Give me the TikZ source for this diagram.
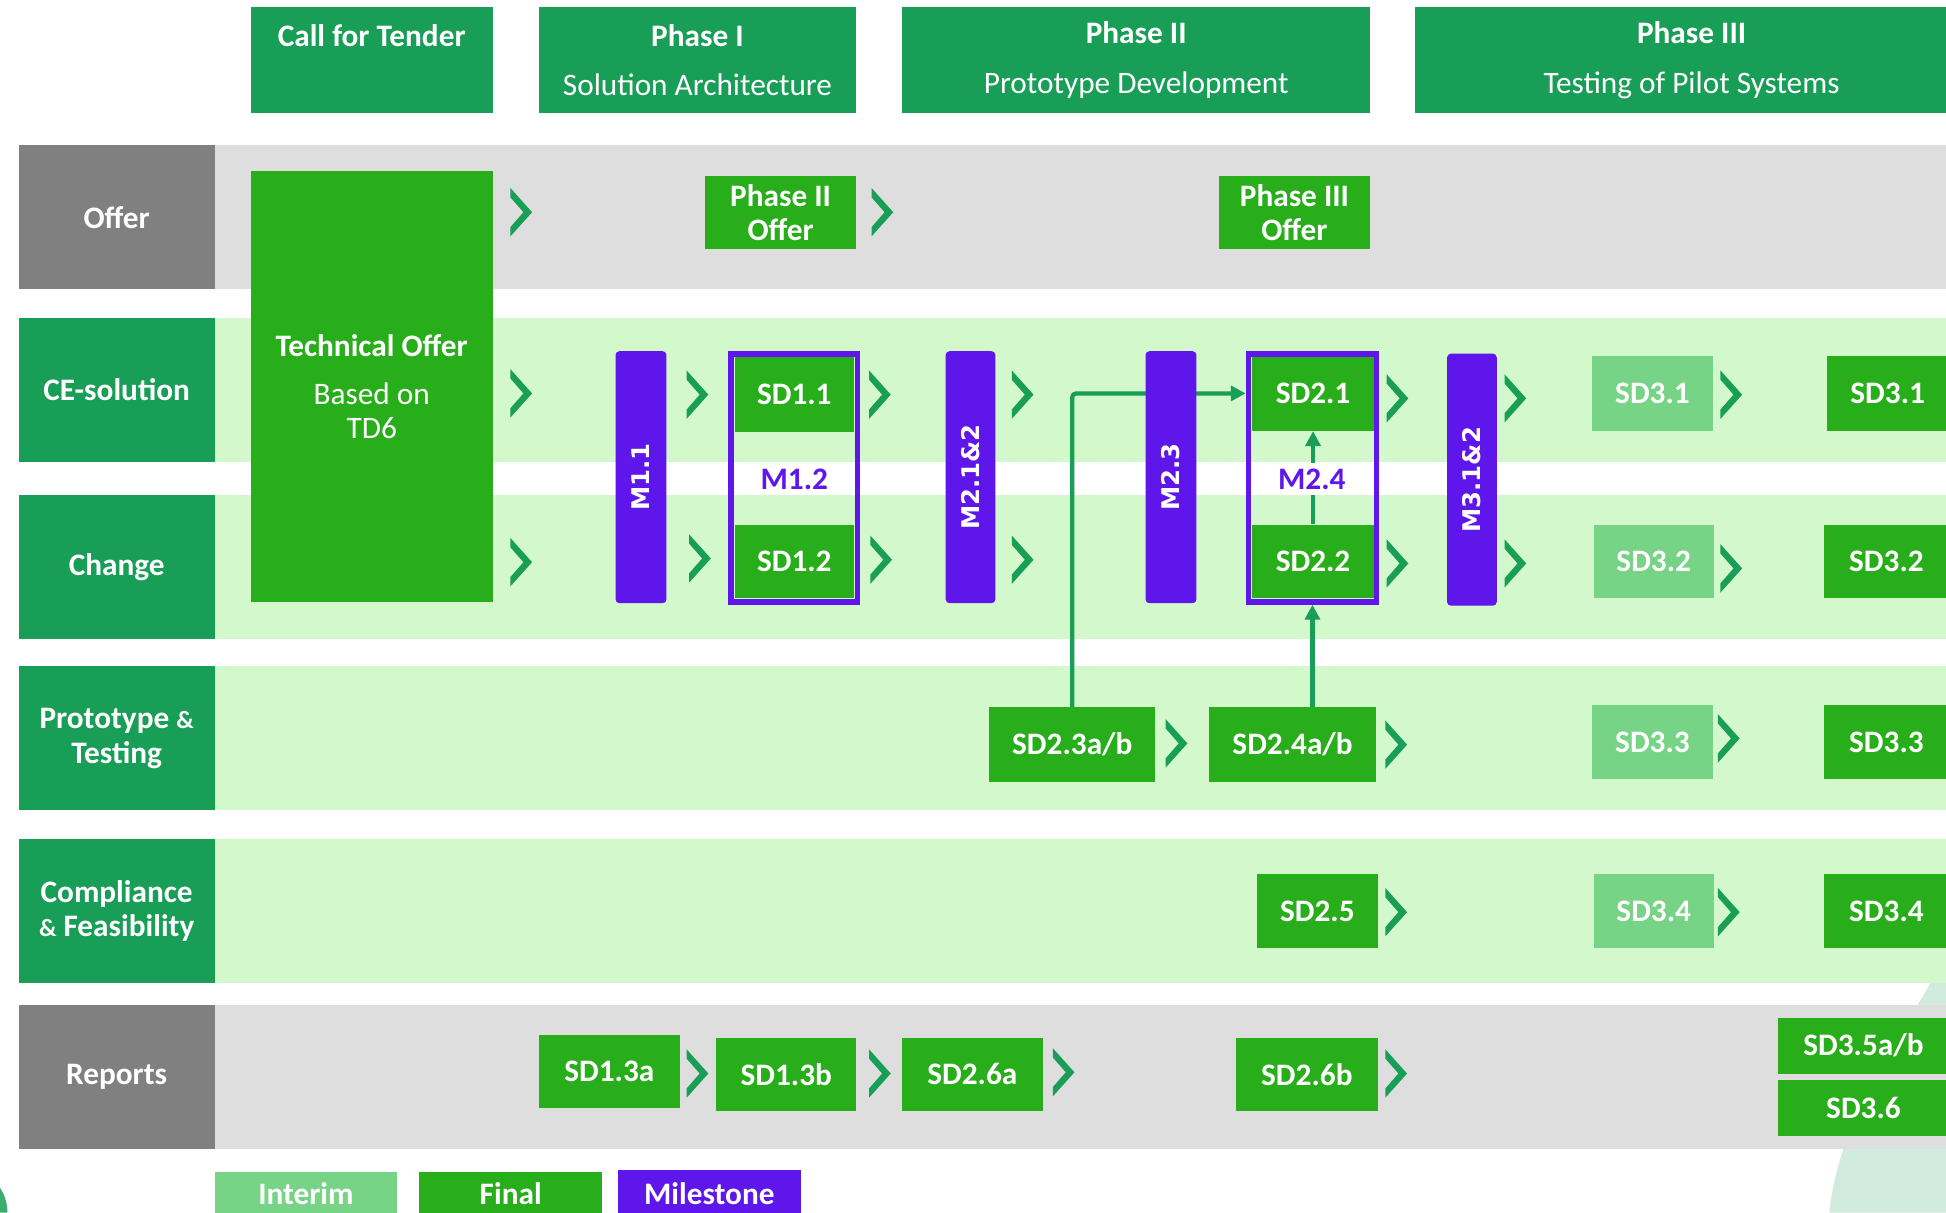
\documentclass[tikz,border=0pt]{standalone}
\usepackage{fontspec}
\setmainfont{Carlito}
\newfontfamily\dejavu{DejaVu Sans}
\usetikzlibrary{arrows.meta}
\definecolor{hdr}{RGB}{25,158,88}
\definecolor{fin}{RGB}{40,174,26}
\definecolor{inter}{RGB}{119,211,133}
\definecolor{mil}{RGB}{94,22,234}
\definecolor{lgreen}{RGB}{211,248,203}
\definecolor{lgray}{RGB}{222,222,222}
\definecolor{dgray}{RGB}{128,128,128}
\definecolor{pale}{RGB}{209,235,223}
% name, x1, y1, x2, y2, style, text
\newcommand\mybox[7]{\node[#6, inner sep=0pt, minimum width={(#4-#2)*0.5pt}, minimum height={(#5-#3)*0.5pt}] (#1) at ({(#2+#4)/2},{(#3+#5)/2}) {#7};}
\newcommand\chevat[2]{\pic at (#1,#2) {chevron};}
\begin{document}
\begin{tikzpicture}[x=0.5pt,y=-0.5pt,
  every node/.style={font=\fontsize{12.6}{13.5}\selectfont, text=white, align=center},
  hdrbox/.style={fill=hdr},
  labbox/.style={fill=hdr, font=\fontsize{12.6}{14}\selectfont\bfseries},
  graylab/.style={fill=dgray, font=\fontsize{12.6}{14}\selectfont\bfseries},
  finbox/.style={fill=fin, font=\fontsize{12.6}{13.5}\selectfont\bfseries},
  intbox/.style={fill=inter, font=\fontsize{12.6}{13.5}\selectfont\bfseries},
  milbar/.style={fill=mil, rounded corners=1.5pt},
  miltext/.style={rotate=90, inner sep=0pt, font=\dejavu\bfseries\fontsize{9.8}{11}\selectfont},
  grp/.style={draw=mil, line width=2.3pt},
  mlab/.style={text=mil, font=\fontsize{12.6}{13.5}\selectfont\bfseries},
  arr/.style={draw=hdr, line width=1.7pt, rounded corners=1.5pt, -{Triangle[length=6pt,width=6pt]}},
  chevron/.pic={\fill[hdr] (-8.75,-19.5) -- (8.75,0) -- (-8.75,19.5) -- (-8.75,12) -- (1.75,0) -- (-8.75,-12) -- cycle;}
]
\useasboundingbox (0,0) rectangle (1568,977);
\clip (0,0) rectangle (1568,977);
\fill[white] (0,0) rectangle (1568,977);
% background decorations
\fill[pale] (1568,770) .. controls (1530,840) and (1482,900) .. (1474,977) -- (1568,977) -- cycle;
\fill[hdr!85] (0,957) .. controls (4,963) and (6,970) .. (6,977) -- (0,977) -- cycle;

% header
\mybox{hct}{202}{6}{397}{91}{hdrbox}{\textbf{Call for Tender}\\[6.5pt]\phantom{X}}
\mybox{hp1}{434}{6}{690}{91}{hdrbox}{\textbf{Phase I}\\[6.5pt]Solution Architecture}
\mybox{hp2}{727}{6}{1104}{91}{hdrbox}{\textbf{Phase II}\\[6.5pt]Prototype Development}
\mybox{hp3}{1140}{6}{1586}{91}{hdrbox}{\textbf{Phase III}\\[6.5pt]Testing of Pilot Systems}

% row bands
\fill[lgray]  (173,117) rectangle (1568,233);
\fill[lgreen] (173,256) rectangle (1568,372);
\fill[lgreen] (173,399) rectangle (1568,515);
\fill[lgreen] (173,537) rectangle (1568,653);
\fill[lgreen] (173,676) rectangle (1568,792);
\fill[lgray]  (173,810) rectangle (1568,926);

% row labels
\mybox{roffer}{15}{117}{173}{233}{graylab}{Offer}
\mybox{rce}{15}{256}{173}{372}{labbox}{CE-solution}
\mybox{rchange}{15}{399}{173}{515}{labbox}{Change}
\mybox{rproto}{15}{537}{173}{653}{labbox}{Prototype {\fontsize{10}{12}\selectfont\&}\\Testing}
\mybox{rcomp}{15}{676}{173}{792}{labbox}{Compliance\\{\fontsize{10}{12}\selectfont\&} Feasibility}
\mybox{rrep}{15}{810}{173}{926}{graylab}{Reports}

% technical offer
\mybox{tech}{202}{138}{397}{485}{hdrbox,fill=fin}{\textbf{Technical Offer}\\[6pt]Based on\\TD6}

% offer row
\mybox{p2off}{568}{142}{690}{201}{finbox}{Phase II\\Offer}
\mybox{p3off}{982}{142}{1104}{201}{finbox}{Phase III\\Offer}

% SD boxes
\mybox{sd11}{592}{288}{688}{348}{finbox}{SD1.1}
\mybox{sd12}{592}{423}{688}{482}{finbox}{SD1.2}
\mybox{sd21}{1009}{287}{1107}{347}{finbox}{SD2.1}
\mybox{sd22}{1009}{423}{1107}{482}{finbox}{SD2.2}
\mybox{sd31i}{1283}{287}{1380}{347}{intbox}{SD3.1}
\mybox{sd31f}{1472}{287}{1570}{347}{finbox}{SD3.1}
\mybox{sd32i}{1284}{423}{1381}{482}{intbox}{SD3.2}
\mybox{sd32f}{1470}{423}{1570}{482}{finbox}{SD3.2}
\mybox{sd23}{797}{570}{931}{630}{finbox}{SD2.3a/b}
\mybox{sd24}{974}{570}{1109}{630}{finbox}{SD2.4a/b}
\mybox{sd33i}{1283}{568}{1380}{628}{intbox}{SD3.3}
\mybox{sd33f}{1470}{568}{1570}{628}{finbox}{SD3.3}
\mybox{sd25}{1013}{704}{1110}{764}{finbox}{SD2.5}
\mybox{sd34i}{1284}{704}{1381}{764}{intbox}{SD3.4}
\mybox{sd34f}{1470}{704}{1570}{764}{finbox}{SD3.4}
\mybox{sd13a}{434}{834}{548}{893}{finbox}{SD1.3a}
\mybox{sd13b}{577}{836}{690}{895}{finbox}{SD1.3b}
\mybox{sd26a}{727}{836}{840}{895}{finbox}{SD2.6a}
\mybox{sd26b}{996}{836}{1110}{895}{finbox}{SD2.6b}
\mybox{sd35}{1433}{820}{1570}{865}{finbox}{SD3.5a/b}
\mybox{sd36}{1433}{870}{1570}{915}{finbox}{SD3.6}

% group frames
\mybox{g12}{589}{285}{691}{485}{grp}{}
\mybox{g24}{1006}{285}{1109}{485}{grp}{}

% connectors
\draw[arr] (sd23.north) |- (sd21.west -| g24.west);
\draw[arr] (g24.south |- sd24.north) -- (g24.south);
\draw[arr] (sd22.north) -- (sd21.south);

% milestone bars
\mybox{m11}{496}{283}{537}{486}{milbar}{}
\node[miltext] (m11t) at (m11) {M1.1};
\mybox{m212}{762}{283}{802}{486}{milbar}{}
\node[miltext] (m212t) at (m212) {M2.1\&2};
\mybox{m23}{923}{283}{964}{486}{milbar}{}
\node[miltext] (m23t) at (m23) {M2.3};
\mybox{m312}{1166}{285}{1206}{488}{milbar}{}
\node[miltext] (m312t) at (m312) {M3.1\&2};

% milestone labels inside groups
\node[mlab] (m12) at (640,386) {M1.2};
\node[mlab, fill=white, inner ysep=0pt, minimum height=13pt] (m24) at (1057,386) {M2.4};

% chevrons
\chevat{420}{171}\chevat{711}{171}
\chevat{420}{317}\chevat{562}{318}\chevat{709}{318}\chevat{824}{318}\chevat{1126}{321}\chevat{1221}{321}\chevat{1395}{318}
\chevat{420}{453}\chevat{564}{450}\chevat{710}{451}\chevat{824}{451}\chevat{1126}{454}\chevat{1221}{454}\chevat{1395}{458}
\chevat{948}{599}\chevat{1125}{600}\chevat{1393}{595}
\chevat{1125}{735}\chevat{1393}{735}
\chevat{562}{865}\chevat{709}{865}\chevat{857}{864}\chevat{1125}{865}

% legend
\mybox{lint}{173}{944}{320}{980}{intbox}{Interim}
\mybox{lfin}{338}{944}{485}{980}{finbox}{Final}
\mybox{lmil}{498}{943}{645}{980}{finbox,fill=mil}{Milestone}
\end{tikzpicture}
\end{document}
